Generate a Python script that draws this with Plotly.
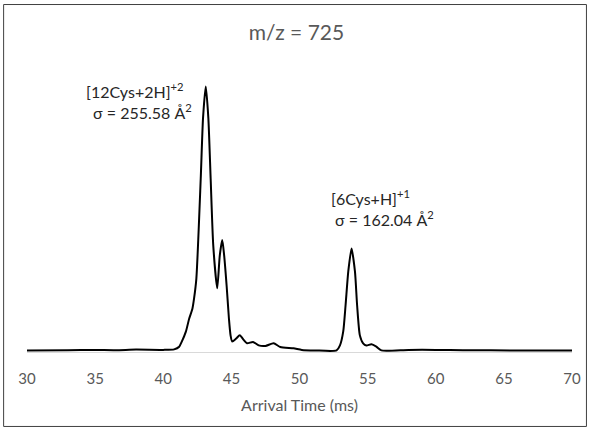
import plotly.graph_objects as go

# Arrival-time distribution for m/z = 725 (normalised intensity)
arrival_time = [
    30.0, 33.0, 35.0, 36.5, 38.0, 40.0, 40.8, 41.17, 41.36, 41.66, 41.90, 42.14,
    42.26, 42.43, 42.75, 42.92, 43.12, 43.31, 43.48, 43.67, 43.96, 44.15, 44.33,
    44.47, 44.65, 44.82, 44.94, 45.06, 45.35, 45.62, 45.90, 46.15, 46.59, 47.01,
    47.50, 48.10, 48.59, 49.56, 50.17, 51.15, 52.72, 52.97, 53.21, 53.38, 53.58,
    53.82, 54.07, 54.23, 54.43, 54.67, 54.91, 55.28, 55.64, 56.01, 58.0, 60.0,
    62.0, 66.0, 70.0,
]
intensity = [
    0.0, 0.001, 0.002, 0.001, 0.003, 0.002, 0.004, 0.014, 0.033, 0.071, 0.120, 0.158,
    0.196, 0.272, 0.650, 0.880, 1.000, 0.880, 0.650, 0.398, 0.235, 0.360, 0.418,
    0.360, 0.246, 0.121, 0.057, 0.034, 0.045, 0.057, 0.040, 0.027, 0.032, 0.019,
    0.017, 0.027, 0.013, 0.008, 0.002, 0.0, 0.0, 0.019, 0.072, 0.170, 0.299,
    0.386, 0.299, 0.170, 0.057, 0.027, 0.019, 0.023, 0.014, 0.0, 0.002, 0.002,
    0.001, 0.0, 0.0,
]

x_ticks = [30, 35, 40, 45, 50, 55, 60, 65, 70]

# Peak labels: (x, y, text)
peak_labels = [
    (34.2, 0.985, "[12Cys+2H]<sup>+2</sup>"),
    (34.4, 0.905, " σ = 255.58 Å<sup>2</sup>"),
    (52.2, 0.580, "[6Cys+H]<sup>+1</sup>"),
    (52.2, 0.500, " σ = 162.04 Å<sup>2</sup>"),
]

FONT = "Lato, 'Open Sans', sans-serif"
GREY = "#595959"

fig = go.Figure()
fig.add_trace(go.Scatter(
    x=arrival_time, y=intensity, mode="lines",
    line=dict(color="black", width=2, shape="spline", smoothing=0.6),
    hoverinfo="x+y", showlegend=False,
))

for x, y, t in peak_labels:
    fig.add_annotation(x=x, y=y, xref="x", yref="y", text=t, showarrow=False,
                       xanchor="left", yanchor="middle",
                       font=dict(family=FONT, size=16, color="#262626"))

# outer chart border
fig.add_shape(type="rect", xref="paper", yref="paper",
              x0=-0.0429, x1=1.0265, y0=-0.255, y1=1.19,
              line=dict(color="#404040", width=1), fillcolor="rgba(0,0,0,0)")

fig.update_layout(
    width=593, height=429,
    margin=dict(l=27, r=18, t=60, b=77),
    paper_bgcolor="white", plot_bgcolor="white",
    title=dict(text="m/z = 725", x=0.5, xanchor="center", y=0.925, yanchor="middle",
               font=dict(family=FONT, size=21, color=GREY)),
    font=dict(family=FONT, color=GREY),
    xaxis=dict(range=[30, 70], tickvals=x_ticks, showgrid=False, zeroline=False,
               showline=True, linecolor="#d9d9d9", linewidth=1, ticks="",
               ticklabelstandoff=13, layer="below traces",
               tickfont=dict(family=FONT, size=15, color=GREY),
               title=dict(text="Arrival Time (ms)", standoff=13,
                          font=dict(family=FONT, size=16, color=GREY))),
    yaxis=dict(range=[-0.006, 1.1], visible=False, showgrid=False, zeroline=False),
)

fig.write_html("out.html")
